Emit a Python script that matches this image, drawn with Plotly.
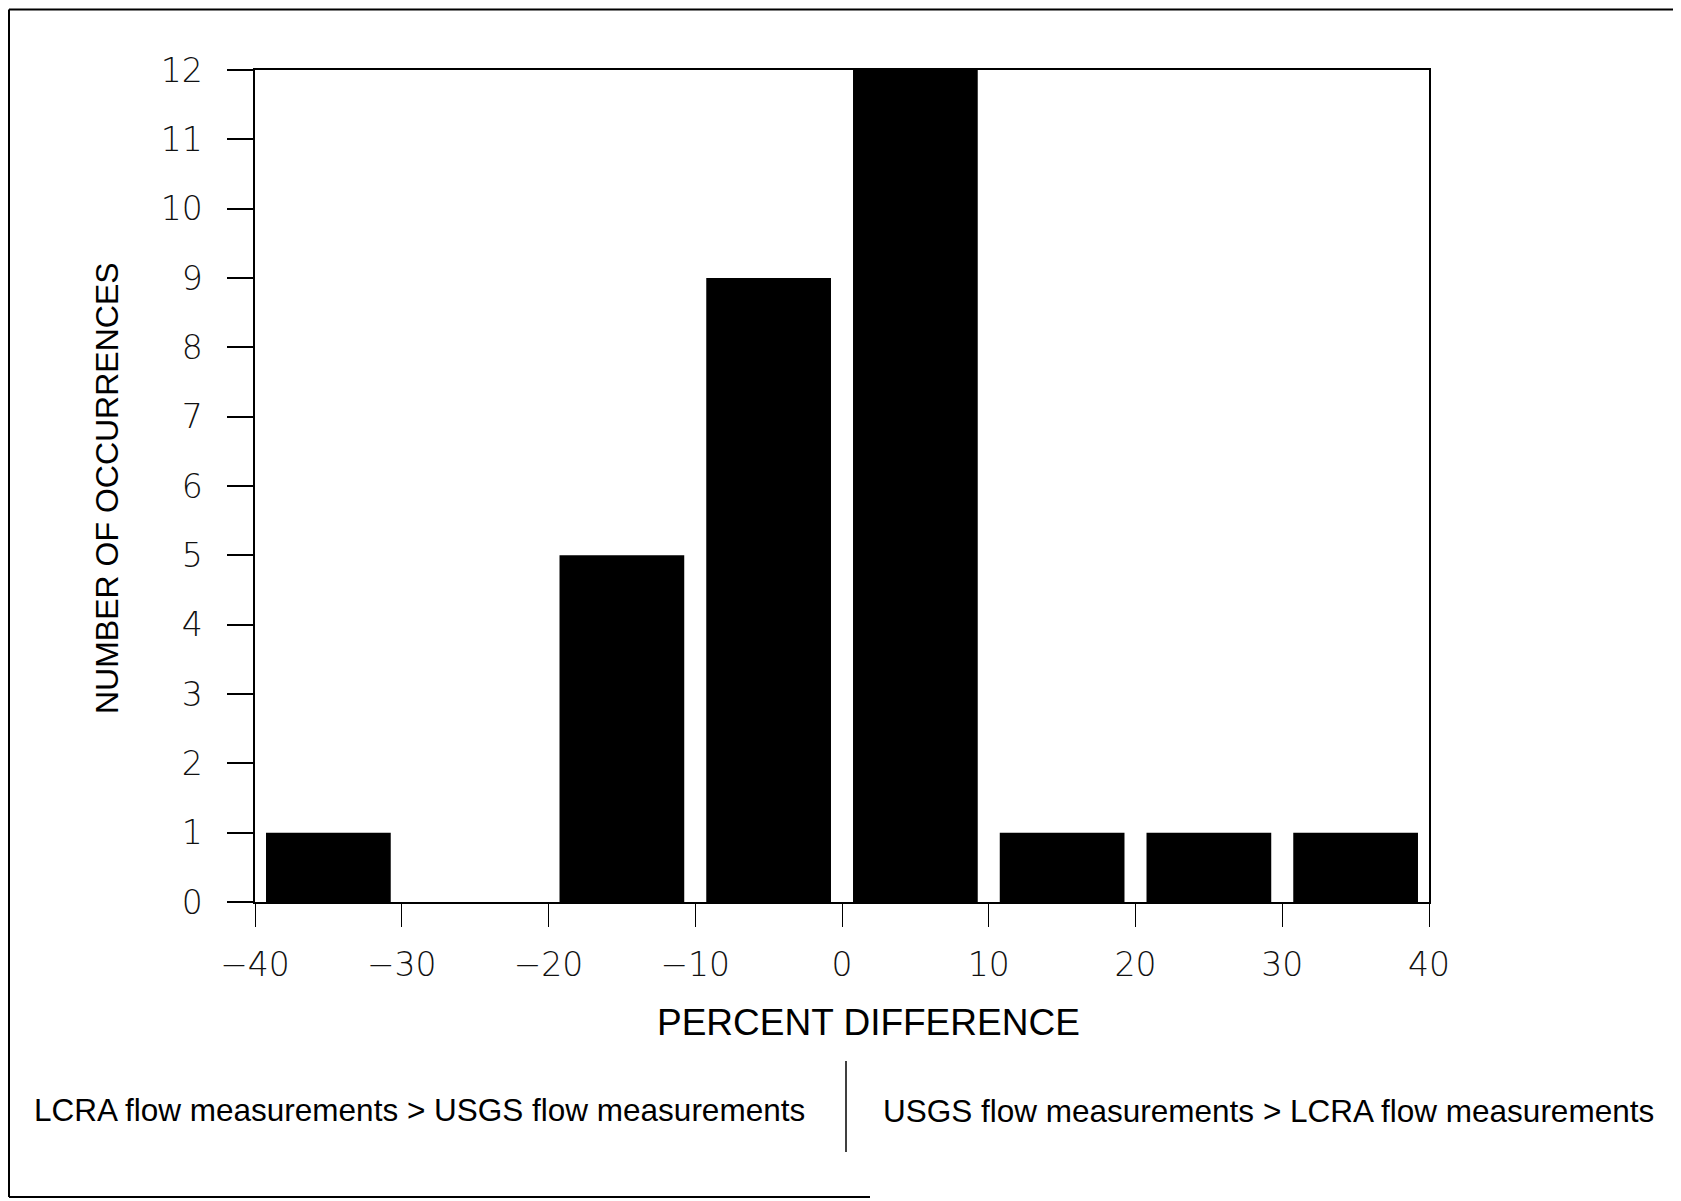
import plotly.graph_objects as go

# ---- data ----
bin_start = [-40, -30, -20, -10, 0, 10, 20, 30]
bin_width = 10
counts = [1, 0, 5, 9, 12, 1, 1, 1]
x_ticks = [-40, -30, -20, -10, 0, 10, 20, 30, 40]
x_ticktext = ["\u221240", "\u221230", "\u221220", "\u221210", "0", "10", "20", "30", "40"]
y_ticks = list(range(0, 13))
x_title = "PERCENT DIFFERENCE"
y_title = "NUMBER OF OCCURRENCES"
left_note = "LCRA flow measurements > USGS flow measurements"
right_note = "USGS flow measurements > LCRA flow measurements"

OFF = 8  # page body margin
W, H = 1681 - OFF, 1201 - OFF
L, R, T, B = 255 - OFF, 1429 - OFF, 70 - OFF, 902 - OFF  # plot area in figure pixels


def px(x):
    return (x - OFF - L) / (R - L)


def py(y):
    return (B - (y - OFF)) / (B - T)


centers = [s + bin_width / 2 for s in bin_start]
FONT = "Liberation Sans"
TICKFONT = "DejaVu Sans"

fig = go.Figure(go.Bar(x=centers, y=counts, marker=dict(color="black", line=dict(width=0)),
                       width=[bin_width * 0.85] * len(centers)))

fig.update_layout(
    width=W, height=H,
    margin=dict(l=L, r=W - R, t=T, b=H - B, autoexpand=False),
    paper_bgcolor="white", plot_bgcolor="white",
    showlegend=False,
    font=dict(family=FONT, color="black"),
)

fig.update_xaxes(
    range=[-40, 40], tickvals=x_ticks, ticktext=x_ticktext,
    showgrid=False, zeroline=False,
    showline=True, linecolor="black", linewidth=1.5, mirror=True,
    ticks="outside", ticklen=23, tickwidth=1.2, tickcolor="black",
    tickfont=dict(size=33, family=TICKFONT, color="#111", weight=200), ticklabelstandoff=10,
)
fig.update_yaxes(
    range=[0, 12], tickvals=y_ticks,
    showgrid=False, zeroline=False,
    showline=True, linecolor="black", linewidth=1.5, mirror=True,
    ticks="outside", ticklen=26, tickwidth=1.5, tickcolor="black",
    tickfont=dict(size=33, family=TICKFONT, color="#111", weight=200), ticklabelstandoff=18,
)

ann = []
ann.append(dict(x=px(868), y=py(1022), xref="paper", yref="paper", text=x_title,
                showarrow=False, font=dict(size=37, family=FONT, color="black"),
                xanchor="center", yanchor="middle"))
ann.append(dict(x=px(107), y=py(488), xref="paper", yref="paper", text=y_title,
                showarrow=False, textangle=-90, font=dict(size=32, family=FONT, color="black"),
                xanchor="center", yanchor="middle"))
ann.append(dict(x=px(32), y=py(1110), xref="paper", yref="paper", text=left_note,
                showarrow=False, font=dict(size=31.5, family=FONT, color="black"),
                xanchor="left", yanchor="middle"))
ann.append(dict(x=px(881), y=py(1111), xref="paper", yref="paper", text=right_note,
                showarrow=False, font=dict(size=31.5, family=FONT, color="black"),
                xanchor="left", yanchor="middle"))
fig.update_layout(annotations=ann)

line = dict(color="black", width=2)
top_y = OFF + 1.5
shapes = [
    dict(type="line", xref="paper", yref="paper", x0=px(9), x1=px(1681), y0=py(top_y), y1=py(top_y), line=line),
    dict(type="line", xref="paper", yref="paper", x0=px(9), x1=px(9), y0=py(top_y), y1=py(1197), line=line),
    dict(type="line", xref="paper", yref="paper", x0=px(9), x1=px(870), y0=py(1197), y1=py(1197), line=line),
    dict(type="line", xref="paper", yref="paper", x0=px(846), x1=px(846), y0=py(1061), y1=py(1152),
         line=dict(color="black", width=1.5)),
]
fig.update_layout(shapes=shapes)

fig.write_html("out.html")
